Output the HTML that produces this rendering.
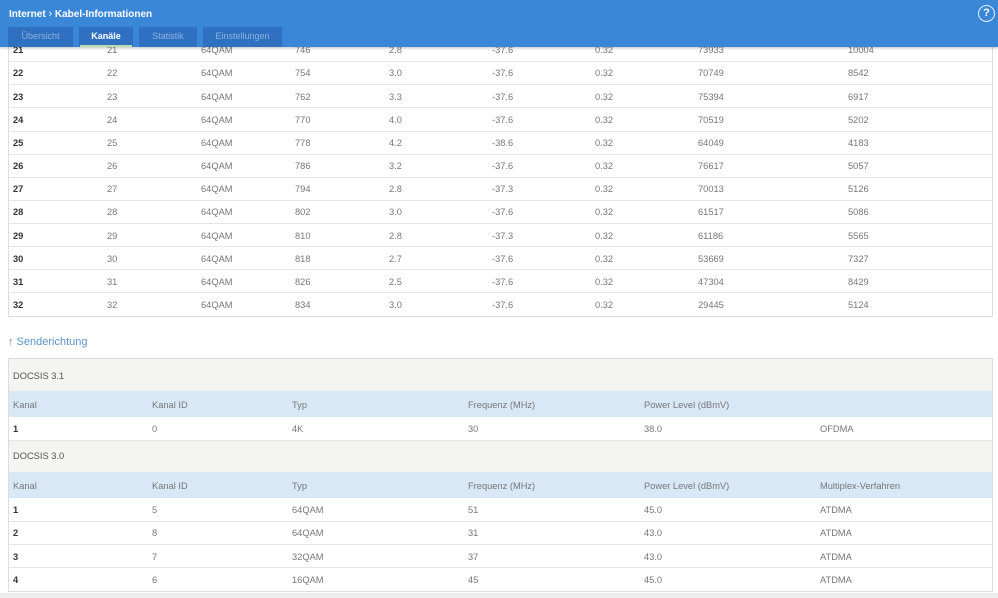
<!DOCTYPE html>
<html><head><meta charset="utf-8">
<style>
*{margin:0;padding:0;box-sizing:border-box}
html,body{width:998px;height:598px;overflow:hidden;background:#fff;font-family:"Liberation Sans",sans-serif}
.hdr{position:absolute;left:0;top:0;width:998px;height:47px;background:#3a86d7;z-index:10;box-shadow:0 1px 3px rgba(0,0,0,0.25)}
.title{position:absolute;left:9px;top:8px;font-size:10px;font-weight:bold;color:#fff;white-space:nowrap}
.tab{position:absolute;top:27px;height:20px;background:#2f70c0;color:#8db2df;font-size:9px;text-align:center;line-height:18px}
.tab.act{color:#fff;font-weight:bold}
.tab.act:after{content:"";position:absolute;left:1px;right:1px;bottom:0;height:2px;background:#b7dcb0}
.help{position:absolute;left:978px;top:5px;width:17px;height:17px;border:1.8px solid #e8f1fb;border-radius:50%;color:#fff;font-size:11px;font-weight:bold;text-align:center;line-height:14px}
.box{position:absolute;left:8px;width:985px;border:1px solid #ddd}
.r{position:absolute;left:0;width:998px}
.r span{position:absolute;font-size:9.3px;color:#777;white-space:nowrap;margin-top:1.5px}
.r span.b{color:#333;font-weight:bold}
.line{position:absolute;left:9px;width:983px;height:1px;background:#e5e5e5}
.sec{position:absolute;left:9px;width:983px}
</style></head><body>
<div class="hdr">
  <div class="title">Internet <span style="font-weight:normal;font-size:11px">&#x203A;</span> Kabel-Informationen</div>
  <div class="tab" style="left:8px;width:65px">Übersicht</div>
  <div class="tab act" style="left:79px;width:54px">Kanäle</div>
  <div class="tab" style="left:139px;width:58px">Statistik</div>
  <div class="tab" style="left:203px;width:79px">Einstellungen</div>
  <div class="help">?</div>
</div>

<div class="box" style="top:30px;height:287px"></div>

<div style="position:absolute;left:8px;top:336px;font-size:11px;color:#5a93c8;white-space:nowrap">&#x2191; Senderichtung</div>

<div class="box" style="top:358px;height:234px"></div>
<div class="sec" style="top:359px;height:32px;background:#f4f4f2"></div>
<div class="sec" style="top:391px;height:26px;background:#d8e8f6"></div>
<div class="sec" style="top:440px;height:32px;background:#f4f4f2;border-top:1px solid #e5e5e5"></div>
<div class="sec" style="top:472px;height:26px;background:#d8e8f6"></div>

<div class="r" style="top:369px"><span style="left:13px;color:#555">DOCSIS 3.1</span></div>
<div class="r" style="top:398px"><span style="left:13px">Kanal</span><span style="left:152px">Kanal ID</span><span style="left:292px">Typ</span><span style="left:468px">Frequenz (MHz)</span><span style="left:644px">Power Level (dBmV)</span></div>
<div class="r" style="top:422px"><span class="b" style="left:13px">1</span><span style="left:152px">0</span><span style="left:292px">4K</span><span style="left:468px">30</span><span style="left:644px">38.0</span><span style="left:820px">OFDMA</span></div>
<div class="r" style="top:449px"><span style="left:13px;color:#555">DOCSIS 3.0</span></div>
<div class="r" style="top:479px"><span style="left:13px">Kanal</span><span style="left:152px">Kanal ID</span><span style="left:292px">Typ</span><span style="left:468px">Frequenz (MHz)</span><span style="left:644px">Power Level (dBmV)</span><span style="left:820px">Multiplex-Verfahren</span></div>
<div class="r" style="top:503px"><span class="b" style="left:13px">1</span><span style="left:152px">5</span><span style="left:292px">64QAM</span><span style="left:468px">51</span><span style="left:644px">45.0</span><span style="left:820px">ATDMA</span></div>
<div class="line" style="top:521px"></div>
<div class="r" style="top:526px"><span class="b" style="left:13px">2</span><span style="left:152px">8</span><span style="left:292px">64QAM</span><span style="left:468px">31</span><span style="left:644px">43.0</span><span style="left:820px">ATDMA</span></div>
<div class="line" style="top:544px"></div>
<div class="r" style="top:550px"><span class="b" style="left:13px">3</span><span style="left:152px">7</span><span style="left:292px">32QAM</span><span style="left:468px">37</span><span style="left:644px">43.0</span><span style="left:820px">ATDMA</span></div>
<div class="line" style="top:567px"></div>
<div class="r" style="top:573px"><span class="b" style="left:13px">4</span><span style="left:152px">6</span><span style="left:292px">16QAM</span><span style="left:468px">45</span><span style="left:644px">45.0</span><span style="left:820px">ATDMA</span></div>
<div style="position:absolute;left:0;top:593px;width:998px;height:5px;background:#ececec"></div>

<div class="r" style="top:43px"><span class="b" style="left:13px">21</span><span style="left:107px">21</span><span style="left:201px">64QAM</span><span style="left:295px">746</span><span style="left:389px">2.8</span><span style="left:492px">-37.6</span><span style="left:595px">0.32</span><span style="left:698px">73933</span><span style="left:848px">10004</span></div>
<div class="line" style="top:61px"></div>
<div class="r" style="top:66px"><span class="b" style="left:13px">22</span><span style="left:107px">22</span><span style="left:201px">64QAM</span><span style="left:295px">754</span><span style="left:389px">3.0</span><span style="left:492px">-37.6</span><span style="left:595px">0.32</span><span style="left:698px">70749</span><span style="left:848px">8542</span></div>
<div class="line" style="top:84px"></div>
<div class="r" style="top:90px"><span class="b" style="left:13px">23</span><span style="left:107px">23</span><span style="left:201px">64QAM</span><span style="left:295px">762</span><span style="left:389px">3.3</span><span style="left:492px">-37.6</span><span style="left:595px">0.32</span><span style="left:698px">75394</span><span style="left:848px">6917</span></div>
<div class="line" style="top:107px"></div>
<div class="r" style="top:113px"><span class="b" style="left:13px">24</span><span style="left:107px">24</span><span style="left:201px">64QAM</span><span style="left:295px">770</span><span style="left:389px">4.0</span><span style="left:492px">-37.6</span><span style="left:595px">0.32</span><span style="left:698px">70519</span><span style="left:848px">5202</span></div>
<div class="line" style="top:131px"></div>
<div class="r" style="top:136px"><span class="b" style="left:13px">25</span><span style="left:107px">25</span><span style="left:201px">64QAM</span><span style="left:295px">778</span><span style="left:389px">4.2</span><span style="left:492px">-38.6</span><span style="left:595px">0.32</span><span style="left:698px">64049</span><span style="left:848px">4183</span></div>
<div class="line" style="top:154px"></div>
<div class="r" style="top:159px"><span class="b" style="left:13px">26</span><span style="left:107px">26</span><span style="left:201px">64QAM</span><span style="left:295px">786</span><span style="left:389px">3.2</span><span style="left:492px">-37.6</span><span style="left:595px">0.32</span><span style="left:698px">76617</span><span style="left:848px">5057</span></div>
<div class="line" style="top:177px"></div>
<div class="r" style="top:182px"><span class="b" style="left:13px">27</span><span style="left:107px">27</span><span style="left:201px">64QAM</span><span style="left:295px">794</span><span style="left:389px">2.8</span><span style="left:492px">-37.3</span><span style="left:595px">0.32</span><span style="left:698px">70013</span><span style="left:848px">5126</span></div>
<div class="line" style="top:200px"></div>
<div class="r" style="top:205px"><span class="b" style="left:13px">28</span><span style="left:107px">28</span><span style="left:201px">64QAM</span><span style="left:295px">802</span><span style="left:389px">3.0</span><span style="left:492px">-37.6</span><span style="left:595px">0.32</span><span style="left:698px">61517</span><span style="left:848px">5086</span></div>
<div class="line" style="top:223px"></div>
<div class="r" style="top:229px"><span class="b" style="left:13px">29</span><span style="left:107px">29</span><span style="left:201px">64QAM</span><span style="left:295px">810</span><span style="left:389px">2.8</span><span style="left:492px">-37.3</span><span style="left:595px">0.32</span><span style="left:698px">61186</span><span style="left:848px">5565</span></div>
<div class="line" style="top:246px"></div>
<div class="r" style="top:252px"><span class="b" style="left:13px">30</span><span style="left:107px">30</span><span style="left:201px">64QAM</span><span style="left:295px">818</span><span style="left:389px">2.7</span><span style="left:492px">-37.6</span><span style="left:595px">0.32</span><span style="left:698px">53669</span><span style="left:848px">7327</span></div>
<div class="line" style="top:269px"></div>
<div class="r" style="top:275px"><span class="b" style="left:13px">31</span><span style="left:107px">31</span><span style="left:201px">64QAM</span><span style="left:295px">826</span><span style="left:389px">2.5</span><span style="left:492px">-37.6</span><span style="left:595px">0.32</span><span style="left:698px">47304</span><span style="left:848px">8429</span></div>
<div class="line" style="top:292px"></div>
<div class="r" style="top:298px"><span class="b" style="left:13px">32</span><span style="left:107px">32</span><span style="left:201px">64QAM</span><span style="left:295px">834</span><span style="left:389px">3.0</span><span style="left:492px">-37.6</span><span style="left:595px">0.32</span><span style="left:698px">29445</span><span style="left:848px">5124</span></div>
</body></html>
